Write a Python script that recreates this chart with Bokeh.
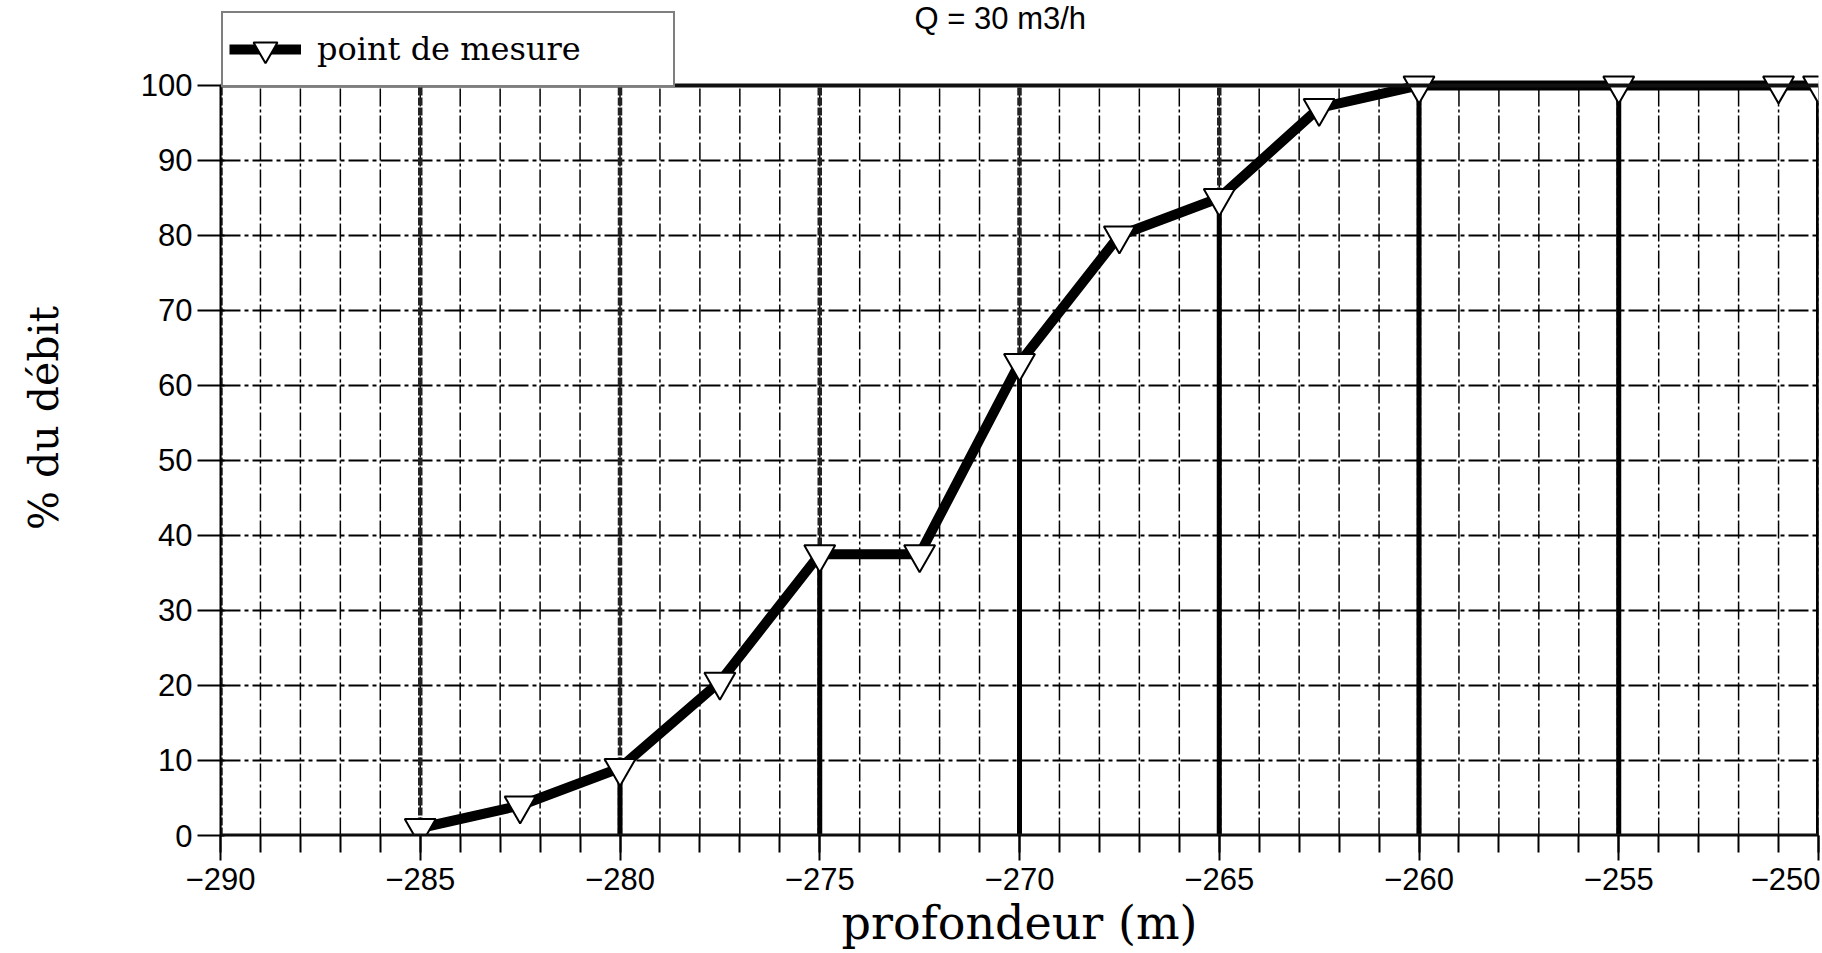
import numpy as np
from bokeh.plotting import figure
from bokeh.models import Range1d, FixedTicker, Legend, LegendItem, Label, Span
from bokeh.embed import file_html
from bokeh.resources import INLINE

# ---- data ----
depth = [-285.0, -282.5, -280.0, -277.5, -275.0, -272.5, -270.0, -267.5,
         -265.0, -262.5, -260.0, -255.0, -251.0, -250.0]
pct = [1.0, 4.0, 9.0, 20.5, 37.5, 37.5, 63.0, 80.0,
       85.0, 97.0, 100.0, 100.0, 100.0, 100.0]

x_ticks = list(range(-290, -249, 5))
x_minor = list(range(-290, -249, 1))
y_ticks = list(range(0, 101, 10))
x_tick_labels = {t: "\u2212" + str(abs(t)) for t in x_ticks}

title_text = "Q = 30 m3/h"
legend_text = "point de mesure"
x_label = "profondeur (m)"
y_label = "% du débit"

W, H = 1820, 953
Y_TOP = 111.33  # frame extends above 100 to hold legend and title
p = figure(width=W, height=H, x_range=Range1d(-290, -250), y_range=Range1d(0, Y_TOP),
           output_backend="svg", toolbar_location=None, title=None,
           min_border_left=220, min_border_right=2, min_border_top=0, min_border_bottom=118)
p.outline_line_color = None
p.background_fill_color = "white"
p.xgrid.visible = False
p.ygrid.ticker = FixedTicker(ticks=y_ticks[1:-1])
p.ygrid.grid_line_color = "black"
p.ygrid.grid_line_width = 2
p.ygrid.grid_line_dash = "20 4 4 4"

# vertical grid lines (1 m) and heavy lines (5 m)
p.segment(x0=x_minor, y0=y_ticks[0], x1=x_minor, y1=y_ticks[-1], line_color="black",
          line_width=1.5, line_dash="18 3 3 3")
p.segment(x0=x_ticks, y0=y_ticks[0], x1=x_ticks, y1=y_ticks[-1], line_color="#222222",
          line_width=4.5, line_dash="8 2")

# frame-like heavy horizontal lines at 0 and 100
for yv in (y_ticks[0], y_ticks[-1]):
    p.add_layout(Span(location=yv, dimension="width", line_color="#111111", line_width=4))

# stems under points that fall on the 5 m lines
d_arr = np.array(depth)
v_arr = np.array(pct)
mask = np.isclose(np.mod(d_arr, 5), 0)
p.segment(x0=d_arr[mask], y0=0, x1=d_arr[mask], y1=v_arr[mask], line_color="black", line_width=5)

line_r = p.line(depth, pct, line_color="black", line_width=10)
mark_r = p.scatter(depth, pct, marker="inverted_triangle", size=31, fill_color="white",
                   line_color="black", line_width=2)

legend = Legend(items=[LegendItem(label=legend_text, renderers=[line_r, mark_r])],
                location=(1, 748), margin=0, padding=6, glyph_width=72, glyph_height=60,
                label_standoff=16, label_width=350,
                label_text_font="DejaVu Serif", label_text_font_size="32px",
                label_text_color="black",
                border_line_color="black", border_line_width=2,
                background_fill_color="white", background_fill_alpha=1.0)
p.add_layout(legend)

p.add_layout(Label(x=-270.48, y=111.2, text=title_text, text_align="center",
                   text_baseline="top", text_font="Liberation Sans",
                   text_font_size="31px", text_color="black"))

# x axis
xa = p.xaxis[0]
xa.ticker = FixedTicker(ticks=x_ticks, minor_ticks=x_minor)
xa.major_label_overrides = x_tick_labels
xa.axis_line_width = 2
xa.axis_line_color = "black"
xa.major_tick_out = 25
xa.major_tick_in = 0
xa.minor_tick_out = 17
xa.minor_tick_in = 0
xa.major_tick_line_width = 2
xa.minor_tick_line_width = 2
xa.major_tick_line_color = "black"
xa.minor_tick_line_color = "black"
xa.major_label_text_font = "Liberation Sans"
xa.major_label_text_font_size = "31px"
xa.major_label_text_color = "black"
xa.major_label_standoff = 7
xa.axis_label = x_label
xa.axis_label_text_font = "DejaVu Serif"
xa.axis_label_text_font_size = "46px"
xa.axis_label_text_font_style = "normal"
xa.axis_label_text_color = "black"
xa.axis_label_standoff = 3

# y axis
ya = p.yaxis[0]
ya.ticker = FixedTicker(ticks=y_ticks, minor_ticks=[])
ya.bounds = (y_ticks[0], y_ticks[-1])
ya.axis_line_width = 2
ya.axis_line_color = "black"
ya.major_tick_out = 23
ya.major_tick_in = 4
ya.minor_tick_out = 0
ya.minor_tick_in = 0
ya.major_tick_line_width = 2
ya.major_tick_line_color = "black"
ya.major_label_text_font = "Liberation Sans"
ya.major_label_text_font_size = "31px"
ya.major_label_text_color = "black"
ya.major_label_standoff = 5
ya.axis_label = y_label
ya.axis_label_text_font = "DejaVu Serif"
ya.axis_label_text_font_size = "41px"
ya.axis_label_text_font_style = "normal"
ya.axis_label_text_color = "black"
ya.axis_label_standoff = 70

open("out.html", "w").write(file_html(p, INLINE))
